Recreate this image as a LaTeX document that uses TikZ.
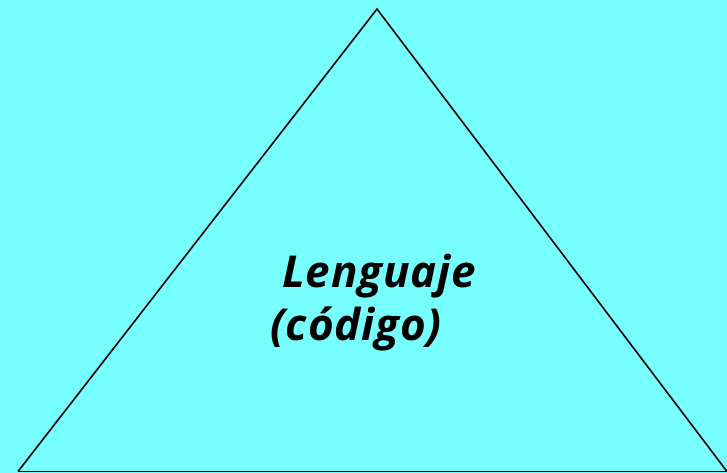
\documentclass[tikz,border=0pt]{standalone}
\usepackage{fontspec}
\setmainfont{Open Sans}[LetterSpace=2]
\definecolor{fondo}{RGB}{119,255,255}
\tikzset{
  lado/.style={draw=black,line width=1.6pt,line join=miter},
  rotulo/.style={inner sep=0pt,anchor=base west,font=\fontsize{44}{52}\selectfont\bfseries\itshape}
}

\begin{document}
\begin{tikzpicture}[x=1pt,y=-1pt]
    \fill [fondo] (0,0) rectangle (727,473);
    \useasboundingbox (0,0) rectangle (727,473);

    \coordinate (cima) at (377, 9);
	\coordinate (izq) at (18, 471.5);
	\coordinate (der) at (727, 471.5);
	\coordinate (borde) at (740, 471.5);
	\node [rotulo] (lengua) at (282, 287) {Lenguaje};
	\node [rotulo] (codigo) at (270, 340) {(código)};
	% edges
	\draw [lado] (izq) -- (cima) -- (der);
	\draw [lado] (izq) -- (borde);
\end{tikzpicture}
\end{document}
